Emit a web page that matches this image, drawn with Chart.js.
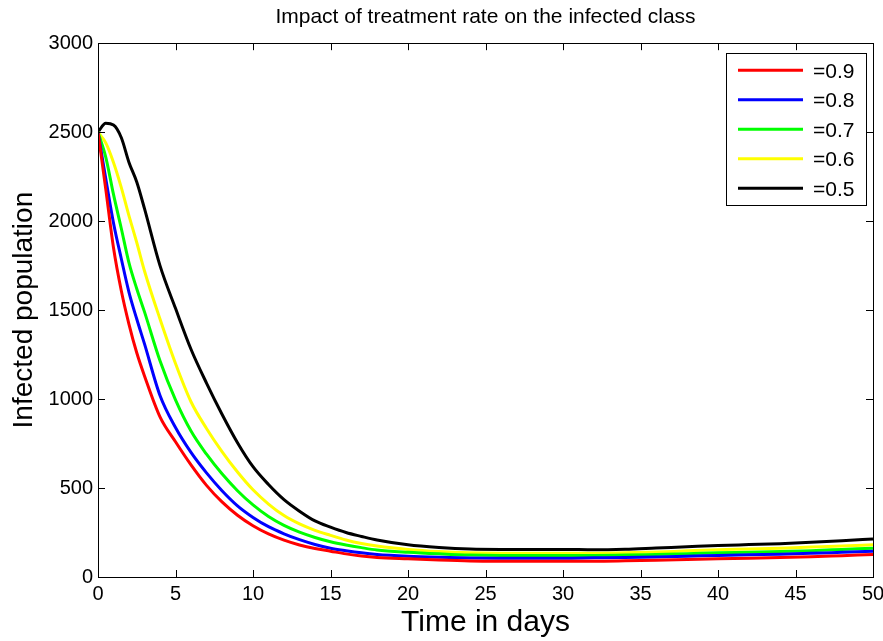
<!DOCTYPE html>
<html>
<head>
<meta charset="utf-8">
<script src="https://cdn.jsdelivr.net/npm/chart.js@4.4.1/dist/chart.umd.min.js"></script>
<style>
    html, body { margin: 0; padding: 0; background: #fff; }
    #wrap { width: 883px; height: 641px; }
</style>
</head>
<body>
<div id="wrap"><canvas id="chart" width="883" height="641"></canvas></div>
<script>
const days = [0, 0.5, 1, 1.5, 2, 2.5, 3, 4, 5, 6, 7, 8, 9, 10, 11, 12, 13, 14, 15, 16, 17, 18,
    20, 22, 24, 26, 28, 30, 32, 34, 36, 38, 40, 42, 44, 46, 48, 50]

const rate09 = [2500, 2180, 1850, 1610, 1420, 1260, 1130, 900, 760, 630, 515, 422, 347, 288, 242, 207, 180, 160,
    145, 130, 118, 110, 102, 95, 90, 89, 89, 89, 89, 91, 94, 98, 102, 105, 109, 114, 120, 126]
const rate08 = [2500, 2240, 1990, 1790, 1600, 1450, 1310, 1020, 840, 700, 585, 485, 400, 335, 283, 243, 210, 183,
    162, 148, 136, 127, 117, 111, 107, 106, 106, 106, 108, 110, 113, 117, 121, 125, 128, 133, 139, 145]
const rate07 = [2500, 2360, 2150, 1960, 1765, 1620, 1490, 1215, 995, 820, 690, 580, 485, 405, 340, 290, 252, 222,
    198, 180, 165, 152, 139, 130, 123, 121, 121, 121, 121, 123, 127, 131, 136, 139, 143, 148, 155, 162]
const rate06 = [2500, 2440, 2330, 2190, 2030, 1880, 1720, 1450, 1200, 985, 835, 705, 590, 490, 410, 345, 298, 262,
    234, 208, 188, 174, 155, 143, 136, 134, 134, 134, 134, 136, 140, 147, 153, 157, 162, 168, 174, 181]
const rate05 = [2500, 2550, 2540, 2470, 2330, 2220, 2070, 1750, 1510, 1280, 1090, 915, 755, 620, 520, 435, 370, 315,
    280, 250, 228, 208, 181, 166, 157, 155, 155, 155, 153, 156, 163, 170, 177, 182, 187, 195, 204, 214]

const seriesLabels = ['=0.9', '=0.8', '=0.7', '=0.6', '=0.5']
const seriesColors = ['#ff0000', '#0000ff', '#00ff00', '#ffff00', '#000000']
const seriesValues = [rate09, rate08, rate07, rate06, rate05]

const xTicks = [0, 5, 10, 15, 20, 25, 30, 35, 40, 45, 50]
const yTicks = [0, 500, 1000, 1500, 2000, 2500, 3000]

const FONT = 'Arial, "Liberation Sans", sans-serif'

const toPoints = (values) => values.map((v, i) => ({x: days[i], y: v}))

// MATLAB style box with inward ticks on all four sides
const frameTicks = {
    id: 'frameTicks',
    afterDatasetsDraw(chart) {
        const {ctx, chartArea: a, scales} = chart
        const len = 7
        ctx.save()
        ctx.strokeStyle = '#000'
        ctx.lineWidth = 1
        ctx.beginPath()
        for (let t of xTicks) {
            const px = Math.round(scales.x.getPixelForValue(t)) + 0.5
            ctx.moveTo(px, a.bottom)
            ctx.lineTo(px, a.bottom - len)
            ctx.moveTo(px, a.top)
            ctx.lineTo(px, a.top + len)
        }
        for (let t of yTicks) {
            const py = Math.round(scales.y.getPixelForValue(t)) + 0.5
            ctx.moveTo(a.left, py)
            ctx.lineTo(a.left + len, py)
            ctx.moveTo(a.right, py)
            ctx.lineTo(a.right - len, py)
        }
        ctx.stroke()
        ctx.strokeRect(Math.round(a.left) + 0.5, Math.round(a.top) + 0.5,
            Math.round(a.right - a.left), Math.round(a.bottom - a.top))
        ctx.restore()
    }
}

// legend box inside the top right corner
const boxLegend = {
    id: 'boxLegend',
    afterDraw(chart) {
        const {ctx, chartArea: a} = chart
        const w = 140, rowH = 29.5
        const right = a.right - 7, top = a.top + 10
        const left = right - w
        const h = rowH * seriesLabels.length + 4
        ctx.save()
        ctx.fillStyle = '#fff'
        ctx.fillRect(left, top, w, h)
        ctx.strokeStyle = '#000'
        ctx.lineWidth = 1
        ctx.strokeRect(Math.round(left) + 0.5, Math.round(top) + 0.5, w, Math.round(h))
        ctx.font = '21px ' + FONT
        ctx.textBaseline = 'middle'
        ctx.textAlign = 'left'
        chart.data.datasets.forEach((ds, i) => {
            const y = top + 17 + i * rowH
            ctx.strokeStyle = ds.borderColor
            ctx.lineWidth = 3
            ctx.beginPath()
            ctx.moveTo(left + 12, y)
            ctx.lineTo(left + 77, y)
            ctx.stroke()
            ctx.fillStyle = '#000'
            ctx.fillText(ds.label, left + 87, y + 2)
        })
        ctx.restore()
    }
}

const ctx = document.getElementById('chart').getContext('2d')
new Chart(ctx, {
    type: 'line',
    data: {
        datasets: seriesValues.map((vals, i) => ({
            label: seriesLabels[i],
            data: toPoints(vals),
            borderColor: seriesColors[i],
            backgroundColor: seriesColors[i],
            borderWidth: 3,
            pointRadius: 0,
            cubicInterpolationMode: 'monotone',
            fill: false
        }))
    },
    options: {
        responsive: false,
        animation: false,
        layout: {padding: {left: 0, right: 10, top: 0, bottom: 0}},
        plugins: {
            legend: {display: false},
            tooltip: {enabled: false},
            title: {
                display: true,
                fullSize: false,
                text: 'Impact of treatment rate on the infected class',
                color: '#000',
                font: {family: FONT, size: 21, weight: 'normal'},
                padding: {top: 5, bottom: 13}
            }
        },
        scales: {
            x: {
                type: 'linear',
                min: 0,
                max: 50,
                afterBuildTicks: (s) => { s.ticks = xTicks.map(v => ({value: v})) },
                afterFit: (s) => {
                    s.height = 64
                    s.paddingLeft = 0
                    s.paddingRight = 0
                },
                ticks: {color: '#000', font: {family: FONT, size: 20}, padding: 5, maxRotation: 0},
                grid: {display: false, drawTicks: false},
                border: {display: false},
                title: {
                    display: true,
                    text: 'Time in days',
                    color: '#000',
                    font: {family: FONT, size: 30},
                    padding: {top: 0, bottom: 0}
                }
            },
            y: {
                min: 0,
                max: 3000,
                afterBuildTicks: (s) => { s.ticks = yTicks.map(v => ({value: v})) },
                afterFit: (s) => { s.width = 98 },
                ticks: {
                    color: '#000',
                    font: {family: FONT, size: 20},
                    padding: 5,
                    callback: (v) => String(v)
                },
                grid: {display: false, drawTicks: false},
                border: {display: false},
                title: {
                    display: true,
                    text: 'Infected population',
                    color: '#000',
                    font: {family: FONT, size: 28},
                    padding: {top: 7, bottom: 0}
                }
            }
        }
    },
    plugins: [frameTicks, boxLegend]
})
</script>
</body>
</html>
